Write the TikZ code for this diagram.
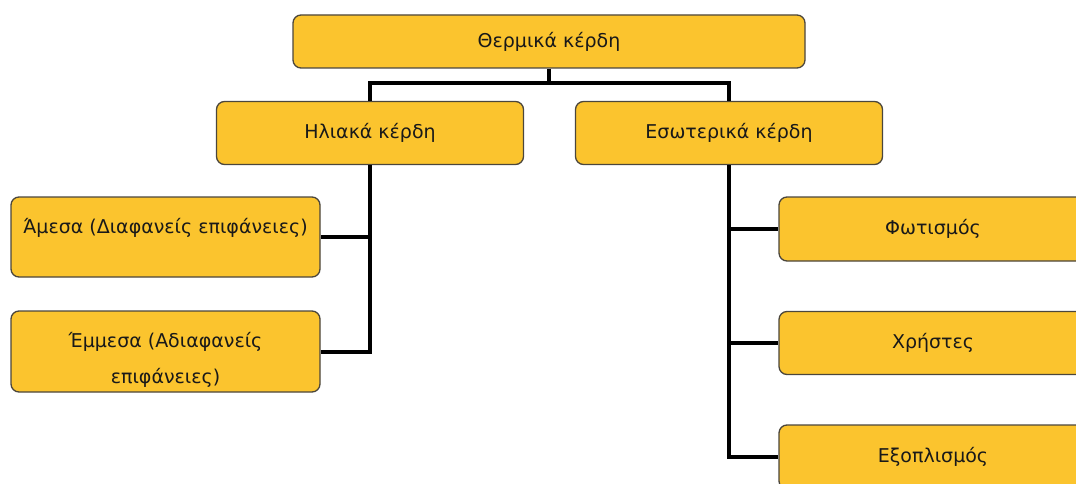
\documentclass[tikz,border=0pt]{standalone}
\usepackage{fontspec}
\setmainfont{DejaVu Sans}
\definecolor{boxfill}{RGB}{251,196,46}
\definecolor{boxborder}{RGB}{75,70,60}
\begin{document}
\begin{tikzpicture}[x=1pt,y=-1pt,
  box/.style={draw=boxborder, line width=1.3pt, fill=boxfill, rounded corners=8pt,
    minimum width=307pt, minimum height=63pt, inner sep=0pt},
  txt/.style={font=\fontsize{19}{21}\selectfont, text=black!90, inner sep=0pt},
  link/.style={line width=4pt, draw=black}]
\useasboundingbox (0,0) rectangle (1076,484);
\begin{scope}
\clip (0,0) rectangle (1076,484);
\node[box, minimum width=512pt, minimum height=53pt] (top) at (549,41.5) {};
\node[txt] at (top.center) {Θερμικά κέρδη};
\node[box] (ilia) at (370,133) {};
\node[txt] at (ilia.center) {Ηλιακά κέρδη};
\node[box] (eso) at (729,133) {};
\node[txt] at (eso.center) {Εσωτερικά κέρδη};
\node[box, minimum width=309pt, minimum height=80pt] (amesa) at (165.5,237) {};
\node[txt] at (165.5,228) {Άμεσα (Διαφανείς επιφάνειες)};
\node[box, minimum width=309pt, minimum height=81pt] (emmesa) at (165.5,351.5) {};
\node[txt] at (165.5,342) {Έμμεσα (Αδιαφανείς};
\node[txt] at (165.5,378) {επιφάνειες)};
\node[box, minimum width=308pt, minimum height=64pt] (fot) at (933,229) {};
\node[txt] at (fot.center) {Φωτισμός};
\node[box, minimum width=308pt, minimum height=63pt] (xri) at (933,343) {};
\node[txt] at (xri.center) {Χρήστες};
\node[box, minimum width=308pt, minimum height=64pt] (exo) at (933,457) {};
\node[txt] at (exo.center) {Εξοπλισμός};
\coordinate (j) at (549,83);
\draw[link] (top.south) -- (j);
\draw[link] (ilia.north) |- (j) -| (eso.north);
\draw[link] (ilia.south) |- (amesa.east);
\draw[link] (ilia.south) |- (emmesa.east);
\draw[link] (eso.south) |- (fot.west);
\draw[link] (eso.south) |- (xri.west);
\draw[link] (eso.south) |- (exo.west);
\end{scope}
\end{tikzpicture}
\end{document}
